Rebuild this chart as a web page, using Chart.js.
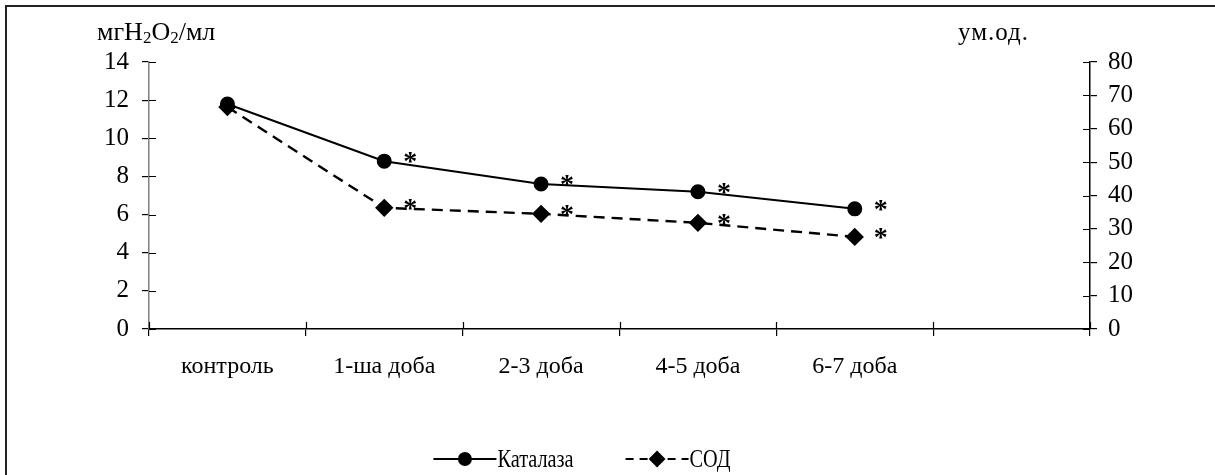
<!DOCTYPE html>
<html>
<head>
<meta charset="utf-8">
<script src="https://cdn.jsdelivr.net/npm/chart.js@4"></script>
<style>
  html, body { margin: 0; padding: 0; background: #fff; }
  #wrap { position: relative; width: 1215px; height: 475px; overflow: hidden; }
  #frame { position: absolute; left: 5px; top: 5px; width: 1300px; height: 600px;
           border-left: 2px solid #222; border-top: 2px solid #222; pointer-events: none; }
  canvas { position: absolute; left: 0; top: 0; }
</style>
</head>
<body>
<div id="wrap">
  <canvas id="chart" width="1215" height="475"></canvas>
  <div id="frame"></div>
</div>
<script>
const categories = ['контроль', '1-ша доба', '2-3 доба', '4-5 доба', '6-7 доба', ''];
const catalase = [11.8, 8.8, 7.6, 7.2, 6.3];
const sod = [66.5, 36.3, 34.5, 31.8, 27.6];
const catalaseStars = [false, true, true, true, true];
const sodStars = [false, true, true, true, true];
const leftMax = 14, leftStep = 2;
const rightMax = 80, rightStep = 10;

const SERIF = '"Liberation Serif", "DejaVu Serif", serif';

// measures a label drawn with a horizontal squeeze
function squeezedWidth(ctx, text, sx) {
    return ctx.measureText(text).width * sx;
}

const overlay = {
    id: 'overlay',
    afterDatasetsDraw(chart) {
        const ctx = chart.ctx;
        const x = chart.scales.x, y = chart.scales.y, y1 = chart.scales.y1;
        ctx.save();
        ctx.strokeStyle = '#000';
        ctx.lineWidth = 1.2;
        ctx.beginPath();
        // inner half of the crossing tick marks
        y.ticks.forEach((t, i) => {
            const py = Math.round(y.getPixelForTick(i)) + 0.5;
            ctx.moveTo(y.right, py); ctx.lineTo(y.right + 7, py);
        });
        y1.ticks.forEach((t, i) => {
            const py = Math.round(y1.getPixelForTick(i)) + 0.5;
            ctx.moveTo(y1.left - 7, py); ctx.lineTo(y1.left, py);
        });
        const n = categories.length;
        for (let i = 0; i <= n; i++) {
            const px = Math.round(x.left + i * (x.width / n)) + 0.5;
            ctx.moveTo(px, x.top); ctx.lineTo(px, x.top - 7);
        }
        ctx.stroke();

        // significance marks
        ctx.fillStyle = '#000';
        ctx.font = 'bold 28px ' + SERIF;
        ctx.textAlign = 'center';
        ctx.textBaseline = 'middle';
        [[0, catalaseStars], [1, sodStars]].forEach(([di, flags]) => {
            chart.getDatasetMeta(di).data.forEach((pt, i) => {
                if (flags[i]) ctx.fillText('*', pt.x + 26, pt.y + 2);
            });
        });
        ctx.restore();
    },
    afterDraw(chart) {
        const ctx = chart.ctx;
        ctx.save();
        ctx.fillStyle = '#000';
        ctx.textBaseline = 'alphabetic';
        ctx.textAlign = 'left';

        // left axis unit: мгH2O2/мл with subscripts
        const parts = [['мгH', 0], ['2', 1], ['O', 0], ['2', 1], ['/мл', 0]];
        let tx = 97;
        parts.forEach(([s, sub]) => {
            ctx.font = (sub ? '17px ' : '26px ') + SERIF;
            ctx.fillText(s, tx, sub ? 43 : 40);
            tx += ctx.measureText(s).width;
        });
        ctx.font = '25px ' + SERIF;
        ctx.letterSpacing = '1px';
        ctx.fillText('ум.од.', 958, 40);
        ctx.letterSpacing = '0px';

        // legend
        const items = [
            { label: 'Каталаза', dash: [], style: 'circle', r: 6 },
            { label: 'СОД', dash: [8, 6], style: 'rectRot', r: 7 }
        ];
        const sx = 0.78;
        ctx.font = '26px ' + SERIF;
        const sample = 63, gap = 52, cy = 459;
        let total = 0;
        items.forEach((it, i) => { total += sample + 1 + squeezedWidth(ctx, it.label, sx) + (i ? 0 : gap); });
        let lx = 582 - total / 2;
        items.forEach(it => {
            ctx.strokeStyle = '#000';
            ctx.lineWidth = 2;
            ctx.setLineDash(it.dash);
            ctx.beginPath();
            ctx.moveTo(lx, cy); ctx.lineTo(lx + sample, cy);
            ctx.stroke();
            ctx.setLineDash([]);
            Chart.helpers.drawPoint(ctx, { pointStyle: it.style, radius: it.r, borderWidth: 1, rotation: 0 }, lx + sample / 2, cy);
            ctx.fillStyle = '#000';
            ctx.fill();
            ctx.textBaseline = 'middle';
            ctx.save();
            ctx.translate(lx + sample + 1, cy + 1);
            ctx.scale(sx, 1);
            ctx.fillText(it.label, 0, 0);
            ctx.restore();
            lx += sample + 1 + squeezedWidth(ctx, it.label, sx) + gap;
        });
        ctx.restore();
    }
};

new Chart(document.getElementById('chart'), {
    type: 'line',
    data: {
        labels: categories,
        datasets: [
            {
                label: 'Каталаза',
                data: catalase,
                yAxisID: 'y',
                borderColor: '#000',
                backgroundColor: '#000',
                borderWidth: 2,
                pointStyle: 'circle',
                pointRadius: 6.5,
                tension: 0
            },
            {
                label: 'СОД',
                data: sod,
                yAxisID: 'y1',
                borderColor: '#000',
                backgroundColor: '#000',
                borderWidth: 2.4,
                borderDash: [11, 7],
                pointStyle: 'rectRot',
                pointRadius: 7.5,
                tension: 0
            }
        ]
    },
    options: {
        responsive: false,
        animation: false,
        layout: { padding: { top: 62, left: 0, right: 0, bottom: 0 } },
        plugins: { legend: { display: false }, tooltip: { enabled: false } },
        scales: {
            x: {
                offset: true,
                grid: { offset: true, drawOnChartArea: false, drawTicks: true, tickLength: 7, color: '#000', lineWidth: 1.2 },
                border: { color: '#000', width: 1.5 },
                ticks: { color: '#000', font: { family: SERIF, size: 24 }, padding: 16, maxRotation: 0, autoSkip: false },
                afterFit(scale) { scale.height = 475 - 329; }
            },
            y: {
                position: 'left',
                min: 0, max: leftMax,
                grid: { drawOnChartArea: false, tickLength: 7, color: '#000', lineWidth: 1.2 },
                border: { color: '#808080', width: 1.5 },
                ticks: { stepSize: leftStep, color: '#000', font: { family: SERIF, size: 25 }, padding: 13 },
                afterFit(scale) { scale.width = 149; }
            },
            y1: {
                position: 'right',
                min: 0, max: rightMax,
                grid: { drawOnChartArea: false, tickLength: 7, color: '#000', lineWidth: 1.2 },
                border: { color: '#000', width: 1.5 },
                ticks: { stepSize: rightStep, color: '#000', font: { family: SERIF, size: 25 }, padding: 11 },
                afterFit(scale) { scale.width = 1215 - 1090; }
            }
        }
    },
    plugins: [overlay]
});
</script>
</body>
</html>
